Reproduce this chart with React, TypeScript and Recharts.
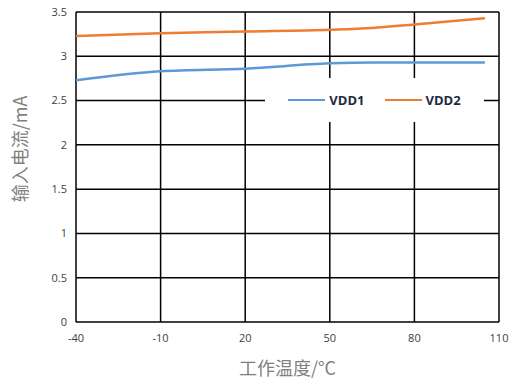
import React from "react";
import {
  LineChart, Line, XAxis, YAxis, CartesianGrid,
} from "recharts";

const temps = [-40, -10, 20, 50, 65, 80, 105];
const vdd1 = [2.73, 2.83, 2.86, 2.92, 2.93, 2.93, 2.93];
const vdd2 = [3.23, 3.26, 3.28, 3.30, 3.32, 3.36, 3.43];
const xTicks = [-40, -10, 20, 50, 80, 110];
const yTicks = [0, 0.5, 1, 1.5, 2, 2.5, 3, 3.5];
const seriesNames = ["VDD1", "VDD2"];

const data = temps.map((t, i) => ({ t, vdd1: vdd1[i], vdd2: vdd2[i] }));

const BLUE = "#5b9bd5";
const ORANGE = "#ed7d31";
const tickStyle = { fontSize: 11, fill: "#404040", fontFamily: "'Open Sans', sans-serif" };
const titleFont = "'Noto Sans CJK SC', sans-serif";

// legend sits inside the plot on a white box, like the Excel original
const LegendBox = () => (
  <div
    style={{
      position: "absolute", left: 265, top: 78, width: 219, height: 44,
      background: "#fff", display: "flex", alignItems: "center", justifyContent: "center",
      fontFamily: "'Open Sans', sans-serif", fontWeight: 700, fontSize: 13, color: "#1f2a44",
    }}
  >
    {[BLUE, ORANGE].map((c, i) => (
      <div key={seriesNames[i]} style={{ display: "flex", alignItems: "center", marginLeft: i ? 20 : 0 }}>
        <span style={{ width: 37, height: 2.5, background: c, marginRight: 4 }} />
        <span>{seriesNames[i]}</span>
      </div>
    ))}
  </div>
);

const YTitle = () => (
  <text
    x={19} y={149} transform="rotate(-90 19 149)" textAnchor="middle" dominantBaseline="central"
    fill="#7f7f7f" fontSize={18} fontFamily={titleFont}
  >
    输入电流/mA
  </text>
);

export default function App() {
  return (
    <div style={{ position: "absolute", left: 0, top: 0, width: 510, height: 379, background: "#fff" }}>
      <LineChart width={510} height={379} data={data} margin={{ top: 12, right: 11, bottom: 0, left: 0 }}>
        <CartesianGrid stroke="#000" strokeWidth={1.5} />
        <XAxis
          dataKey="t" type="number" domain={[-40, 110]} ticks={xTicks} height={57}
          axisLine={false} tickLine={false} tickSize={0} tickMargin={12} tick={tickStyle}
          label={{ value: "工作温度/°C", position: "insideBottom", offset: 4, fill: "#7f7f7f", fontSize: 18, fontFamily: titleFont }}
        />
        <YAxis
          type="number" domain={[0, 3.5]} ticks={yTicks} width={76}
          axisLine={false} tickLine={false} tickSize={0} tickMargin={9} tick={tickStyle}
          label={<YTitle />}
        />
        <Line type="monotone" dataKey="vdd1" stroke={BLUE} strokeWidth={2.5} dot={false} isAnimationActive={false} />
        <Line type="monotone" dataKey="vdd2" stroke={ORANGE} strokeWidth={2.5} dot={false} isAnimationActive={false} />
      </LineChart>
      <LegendBox />
    </div>
  );
}
